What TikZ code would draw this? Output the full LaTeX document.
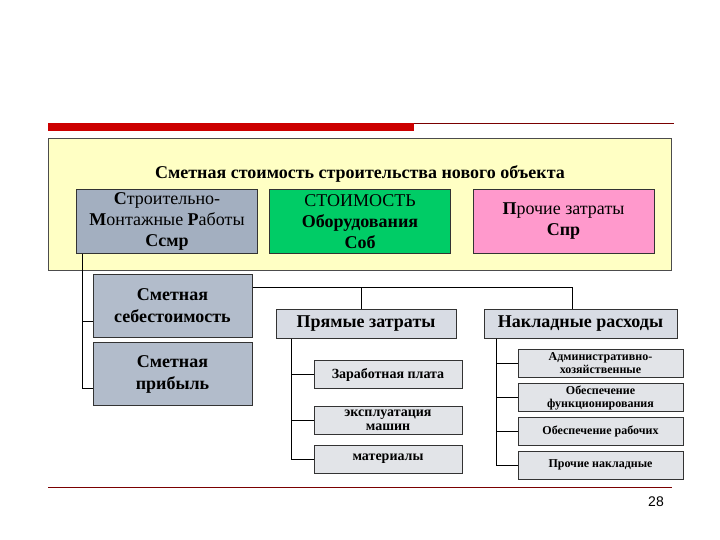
\documentclass[tikz,border=0pt]{standalone}
\usepackage{fontspec}
\setmainfont{Liberation Serif}
\setsansfont{Liberation Sans}
\usetikzlibrary{positioning}
\definecolor{yellowbg}{RGB}{255,255,196}
\definecolor{smrgray}{RGB}{163,175,192}
\definecolor{obgreen}{RGB}{0,204,102}
\definecolor{sprpink}{RGB}{255,153,204}
\definecolor{sebgray}{RGB}{178,188,203}
\definecolor{lightbox}{RGB}{216,220,228}
\definecolor{smallbox}{RGB}{226,228,232}
\definecolor{barred}{RGB}{204,0,0}
\tikzset{
  topbox/.style={draw=black!80,line width=1pt,minimum width=181pt,minimum height=63pt,align=center,inner sep=1pt,font=\fontsize{18}{21}\selectfont},
  leftbox/.style={draw=black!80,line width=1pt,fill=sebgray,minimum width=159pt,minimum height=63pt,align=center,font=\bfseries\fontsize{18}{22}\selectfont},
  midbox/.style={draw=black!80,line width=1pt,fill=lightbox,minimum height=29pt,inner sep=1pt,align=center,font=\bfseries\fontsize{18}{20}\selectfont},
  itembox/.style={draw=black!80,line width=1pt,fill=smallbox,minimum height=28pt,inner sep=0pt,align=center,font=\bfseries\fontsize{12}{13}\selectfont}
}
\begin{document}
\begin{tikzpicture}[x=1pt,y=-1pt,line width=0.8pt]
\useasboundingbox[fill=white] (0,0) rectangle (720,540);
\fill[barred] (48,123) rectangle (414,131);
\draw[barred!60!black,line width=0.6pt] (414,123.5) -- (674,123.5);
\draw[barred!60!black,line width=0.6pt] (48,487) -- (672,487);
\node[draw=black!70,line width=1pt,fill=yellowbg,minimum width=623pt,minimum height=131pt] (frame) at (360,204.5) {};
\node[font=\bfseries\fontsize{18}{20}\selectfont] (title) at (360,174) {Сметная стоимость строительства нового объекта};
\node[topbox,fill=smrgray] (smr) at (167,221.5) {\textbf{С}троительно-\\\textbf{М}онтажные \textbf{Р}аботы\\\textbf{Ссмр}};
\node[topbox,fill=obgreen] (ob) at (360,221.5) {СТОИМОСТЬ\\\textbf{Оборудования}\\\textbf{Соб}};
\node[topbox,fill=sprpink] (spr) at (563.5,221.5) {\textbf{П}рочие затраты\\\textbf{Спр}};
\node[leftbox] (seb) at (172.5,306) {Сметная\\себестоимость};
\node[leftbox] (prib) at (172.5,374) {Сметная\\прибыль};
\node[midbox,minimum width=180pt] (pryam) at (366,323.5) {Прямые затраты};
\node[midbox,minimum width=193pt] (nakl) at (580.5,323.5) {Накладные расходы};
\node[itembox,minimum width=148pt,font=\bfseries\fontsize{14}{14}\selectfont] (zp) at (388,374.5) {Заработная плата};
\node[itembox,minimum width=148pt,font=\bfseries\fontsize{14}{14}\selectfont] (ekspl) at (388,420) {эксплуатация\\машин};
\node[itembox,minimum width=148pt,font=\bfseries\fontsize{14}{14}\selectfont] (mat) at (388,459) {материалы};
\node[itembox,minimum width=165pt] (adm) at (600.5,363) {Административно-\\хозяйственные};
\node[itembox,minimum width=165pt] (func) at (600.5,397.5) {Обеспечение\\функционирования};
\node[itembox,minimum width=165pt] (rab) at (600.5,431) {Обеспечение рабочих};
\node[itembox,minimum width=165pt] (proch) at (600.5,465) {Прочие накладные};
\node[font=\sffamily\fontsize{14}{16}\selectfont] (num) at (656,502) {28};
\coordinate (bus) at ([yshift=-13pt]seb.north east);
\draw ([xshift=6pt]smr.south west) |- ([yshift=-15pt]seb.west);
\draw ([xshift=6pt]smr.south west) |- ([yshift=-14pt]prib.west);
\draw (bus) -| ([xshift=-8pt]nakl.north);
\draw ([xshift=-5pt]pryam.north) -- ([xshift=-5pt]pryam.north |- bus);
\draw ([xshift=16pt]pryam.south west) |- (zp.west);
\draw ([xshift=16pt]pryam.south west) |- (ekspl.west);
\draw ([xshift=16pt]pryam.south west) |- (mat.west);
\draw ([xshift=13pt]nakl.south west) |- (adm.west);
\draw ([xshift=13pt]nakl.south west) |- (func.west);
\draw ([xshift=13pt]nakl.south west) |- (rab.west);
\draw ([xshift=13pt]nakl.south west) |- (proch.west);
\end{tikzpicture}
\end{document}
